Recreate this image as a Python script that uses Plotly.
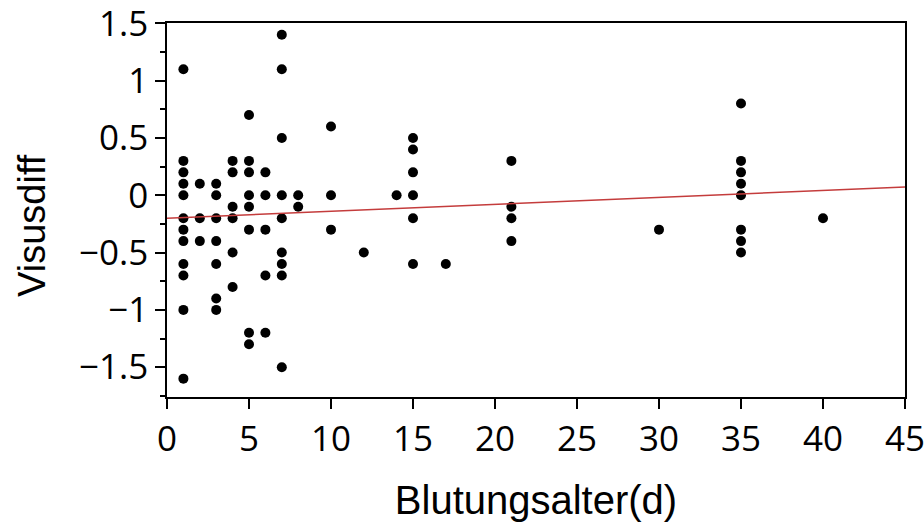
import plotly.graph_objects as go

# Data
blutungsalter = (
    [1]*12 + [2]*3 + [3]*7 + [4]*6 + [5]*8 + [6]*5 + [7]*9 + [8]*2 +
    [10]*3 + [12] + [14] + [15]*6 + [17] + [21]*4 + [30] + [35]*8 + [40]
)
visusdiff = (
    [1.1, 0.3, 0.2, 0.1, 0.0, -0.2, -0.3, -0.4, -0.6, -0.7, -1.0, -1.6] +
    [0.1, -0.2, -0.4] +
    [0.1, 0.0, -0.2, -0.4, -0.6, -0.9, -1.0] +
    [0.3, 0.2, -0.1, -0.2, -0.5, -0.8] +
    [0.7, 0.3, 0.2, 0.0, -0.1, -0.3, -1.2, -1.3] +
    [0.2, 0.0, -0.3, -0.7, -1.2] +
    [1.4, 1.1, 0.5, 0.0, -0.2, -0.5, -0.6, -0.7, -1.5] +
    [0.0, -0.1] +
    [0.6, 0.0, -0.3] +
    [-0.5] +
    [0.0] +
    [0.5, 0.4, 0.2, 0.0, -0.2, -0.6] +
    [-0.6] +
    [0.3, -0.1, -0.2, -0.4] +
    [-0.3] +
    [0.8, 0.3, 0.2, 0.1, 0.0, -0.3, -0.4, -0.5] +
    [-0.2]
)
fit_x = [0, 45]
fit_y = [-0.20, 0.073]

x_ticks = [0, 5, 10, 15, 20, 25, 30, 35, 40, 45]
y_ticks = [-1.5, -1, -0.5, 0, 0.5, 1, 1.5]
y_labels = ["\u22121.5", "\u22121", "\u22120.5", "0", "0.5", "1", "1.5"]

fig = go.Figure()
fig.add_trace(go.Scatter(
    x=blutungsalter, y=visusdiff, mode="markers",
    marker=dict(color="black", size=10, line=dict(width=0)),
    showlegend=False, cliponaxis=False,
))
fig.add_trace(go.Scatter(
    x=fit_x, y=fit_y, mode="lines",
    line=dict(color="#c43c3c", width=1.5),
    showlegend=False,
))

tick_font = dict(family="Open Sans", size=35, color="black")
title_font = dict(family="Liberation Sans, Arial", size=40, color="black")

fig.update_layout(
    width=924, height=529,
    margin=dict(l=167, r=19, t=23, b=132),
    paper_bgcolor="white", plot_bgcolor="white",
    xaxis=dict(
        range=[0, 45], tickvals=x_ticks, ticktext=[str(v) for v in x_ticks],
        showgrid=False, zeroline=False, automargin=False,
        ticklabeloverflow="allow",
        showline=True, linecolor="black", linewidth=1.5, mirror=True,
        ticks="outside", ticklen=10, tickwidth=1.5, tickcolor="black",
        tickfont=tick_font,
        title=dict(text="Blutungsalter(d)", font=title_font, standoff=26),
    ),
    yaxis=dict(
        range=[-1.76, 1.503], tickvals=y_ticks, ticktext=y_labels,
        showgrid=False, zeroline=False, automargin=False,
        ticklabeloverflow="allow",
        showline=True, linecolor="black", linewidth=1.5, mirror=True,
        ticks="outside", ticklen=10, tickwidth=1.5, tickcolor="black",
        minor=dict(dtick=0.25, tick0=0, ticks="outside", ticklen=5,
                   tickwidth=1.5, tickcolor="black", showgrid=False),
        tickfont=tick_font,
    ),
    annotations=[dict(
        text="Visusdiff", textangle=-90, showarrow=False,
        xref="paper", yref="paper", x=-0.183, y=0.46,
        xanchor="center", yanchor="middle",
        font=dict(family="Liberation Sans, Arial", size=38, color="black"),
    )],
)

fig.write_html("out.html")
